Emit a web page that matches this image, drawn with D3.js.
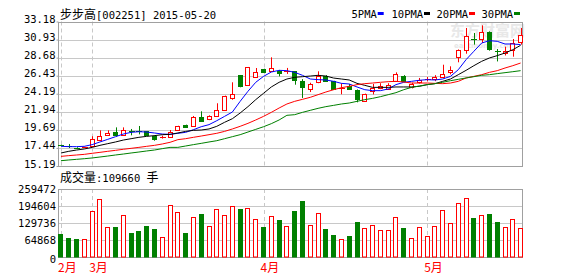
<!DOCTYPE html>
<html><head><meta charset="utf-8">
<script src="https://cdn.jsdelivr.net/npm/d3@7"></script>
<style>
html,body{margin:0;padding:0;background:#fff;}
svg{display:block;}
</style></head>
<body>
<svg id="chart" width="578" height="276"></svg>
<script>
// ---- data ----
const dates = ["02-17","02-25","02-26","02-27",
 "03-02","03-03","03-04","03-05","03-06","03-09","03-10","03-11","03-12","03-13","03-16","03-17","03-18","03-19","03-20","03-23","03-24","03-25","03-26","03-27","03-30","03-31",
 "04-01","04-02","04-03","04-07","04-08","04-09","04-10","04-13","04-14","04-15","04-16","04-17","04-20","04-21","04-22","04-23","04-24","04-27","04-28","04-29","04-30",
 "05-04","05-05","05-06","05-07","05-08","05-11","05-12","05-13","05-14","05-15","05-18","05-19","05-20"];
const openP  = [17.80,17.70,17.47,17.49,17.68,18.47,19.01,19.42,19.09,19.53,19.50,19.51,18.96,18.74,18.80,19.63,20.26,20.13,21.29,21.00,21.45,22.20,23.69,26.48,25.31,26.31,27.23,27.06,27.06,26.95,26.98,25.77,24.78,25.61,26.36,25.77,24.92,25.11,24.69,23.25,24.53,24.90,24.81,25.73,26.36,24.99,25.61,25.98,26.00,26.27,26.93,28.72,29.60,31.06,31.00,31.87,29.49,29.22,29.67,30.59];
const highP  = [17.85,17.93,17.52,17.60,18.89,19.63,19.63,20.00,20.00,19.80,20.17,19.55,19.01,18.97,19.67,20.20,20.34,21.42,22.00,21.50,23.00,23.95,25.61,26.52,27.52,27.39,27.30,28.72,27.15,27.40,27.00,26.00,25.56,26.98,26.50,25.80,25.49,25.40,24.72,24.20,25.40,25.50,25.50,26.85,26.50,25.55,26.15,26.27,26.50,27.80,27.60,29.70,32.37,31.75,32.70,31.95,29.75,30.05,31.00,32.37];
const lowP   = [17.70,17.43,17.36,17.45,17.60,18.34,18.95,18.84,19.00,19.01,19.13,18.97,18.34,18.60,18.72,19.55,19.92,20.08,20.75,20.90,21.35,22.10,23.44,24.99,25.20,26.20,26.85,26.98,26.35,26.65,25.31,23.66,24.40,25.50,25.75,24.75,24.12,24.70,23.12,23.20,24.10,24.75,24.70,25.65,25.65,24.85,25.45,25.73,25.75,26.20,26.60,28.10,29.17,30.30,30.50,29.55,28.21,28.95,28.80,30.30];
const closeP = [17.76,17.66,17.41,17.55,18.51,18.89,19.26,19.09,19.63,19.49,19.46,19.01,18.51,18.78,19.46,20.13,20.08,21.25,20.83,21.42,22.12,23.87,24.12,25.15,27.48,26.86,26.93,27.35,26.77,27.05,25.93,25.06,25.36,26.36,25.81,24.81,24.96,24.81,23.57,24.12,24.94,25.10,25.24,26.61,25.73,25.40,25.90,26.02,26.27,26.64,27.18,29.63,31.37,31.02,31.83,29.79,29.45,29.51,30.50,31.46];
const volume = [87763,72500,68684,67540,175527,221316,114474,114474,159119,91579,99211,118290,106842,76316,197273,170566,91579,151487,164079,117145,183158,159119,193461,184303,186974,143856,115619,155303,141184,118290,175527,214830,122106,167895,107987,85092,68684,81277,134698,110658,122106,103026,103026,152632,111803,72500,114474,80132,118290,179342,129737,206053,225132,149961,160263,164079,134698,114474,145000,109660];
const ma5  = [17.64,17.60,17.60,17.64,17.85,18.18,18.51,18.84,19.17,19.38,19.46,19.42,19.30,19.17,19.13,19.26,19.38,19.71,20.08,20.34,20.83,21.37,21.91,23.24,24.49,25.61,26.35,26.89,27.10,27.06,26.85,26.48,26.02,25.94,25.90,25.73,25.48,25.40,25.03,24.69,24.57,24.57,24.78,25.32,25.61,25.73,25.86,25.94,25.90,26.02,26.35,27.18,28.43,29.47,30.50,30.79,30.71,30.38,30.38,30.30];
const ma10 = [16.81,17.02,17.18,17.31,17.51,17.76,17.97,18.18,18.42,18.59,18.76,18.88,18.97,19.09,19.13,19.30,19.50,19.63,19.67,19.80,20.13,20.63,21.08,21.79,22.58,23.45,24.24,25.03,25.61,26.02,26.23,26.31,26.39,26.48,26.39,26.14,26.02,25.90,25.48,25.23,24.98,24.98,24.98,25.03,25.03,25.03,25.11,25.32,25.44,25.73,26.02,26.56,27.10,27.68,28.22,28.64,28.93,29.26,29.67,30.21];
const ma20 = [16.39,16.48,16.56,16.64,16.77,16.89,17.02,17.14,17.27,17.39,17.51,17.64,17.76,17.93,18.14,18.47,18.59,18.76,18.92,19.09,19.26,19.50,19.80,20.13,20.50,20.92,21.37,21.87,22.41,22.91,23.24,23.49,23.74,24.07,24.40,24.69,24.94,25.11,25.32,25.44,25.52,25.61,25.69,25.73,25.65,25.52,25.52,25.52,25.48,25.44,25.52,25.73,26.15,26.35,26.56,26.85,27.06,27.39,27.68,28.01];
const ma30 = [15.85,15.94,16.02,16.10,16.19,16.31,16.43,16.56,16.68,16.81,16.93,17.06,17.18,17.35,17.51,17.51,17.68,17.85,18.01,18.18,18.34,18.59,18.84,19.09,19.42,19.75,20.08,20.46,20.92,21.50,21.58,21.87,22.12,22.37,22.58,22.74,22.91,23.03,23.24,23.45,23.61,23.82,24.07,24.32,24.69,24.98,25.15,25.32,25.44,25.61,25.81,25.98,26.15,26.31,26.48,26.56,26.69,26.81,26.93,27.06];
const priceTicks = [15.19,17.44,19.69,21.94,24.19,26.43,28.68,30.93,33.18];
const volTicks = [0,64868,129736,194604,259472];
const monthNames = {"02":"2月","03":"3月","04":"4月","05":"5月"};
const maNames = ["5PMA","10PMA","20PMA","30PMA"];
const maColors = ["#0000ff","#000000","#ff0000","#008000"];
const titleName = "步步高", titleCode = "[002251] 2015-05-20";
const volLabel = "成交量", volUnit = "手";

// ---- drawing ----
const svg = d3.select("#chart");
const L = 58, R = 522;
const PT = 21.5, PB = 166, VT = 189, VB = 257;
const RED = "#ff0000", GREEN = "#008000", GRID = "#c8c8c8", BORDER = "#a0a0a0";
const mono = "'DejaVu Sans Mono','Liberation Mono',monospace";
const cjk = "'Noto Sans CJK SC','Noto Sans',sans-serif";

const idx = d3.range(dates.length);
const x = d3.scaleBand().domain(idx).range([57.1, 57.1 + 60 * 7.79]).paddingInner(0.3).paddingOuter(0.15);
const cx = i => x(i) + x.bandwidth() / 2;
const y = d3.scaleLinear().domain([15.19, 33.18]).range([PB, PT]);
const yv = d3.scaleLinear().domain([0, 259472]).range([VB, VT]);
const crisp = v => Math.round(v) + 0.5;

// month starts
const monthStarts = [];
dates.forEach((d, i) => { const m = d.slice(0, 2); if (i === 0 || m !== dates[i - 1].slice(0, 2)) monthStarts.push({i, m}); });

// watermark
const wm = svg.append("g").attr("fill", "#e8e8e8");
wm.append("text").attr("x", 450).attr("y", 36).attr("font-family", cjk).attr("font-size", 15).attr("font-weight", "bold").text("东方财富网");
wm.append("text").attr("x", 454).attr("y", 48).attr("font-family", "'DejaVu Sans',sans-serif").attr("font-size", 7).attr("font-weight", "bold").text("eastmoney.com");

// grids
function panel(top, bottom, ticks, scale) {
  const g = svg.append("g");
  g.selectAll("line.h").data(ticks.slice(1, -1)).join("line")
    .attr("x1", L).attr("x2", R).attr("y1", d => crisp(scale(d))).attr("y2", d => crisp(scale(d)))
    .attr("stroke", GRID).attr("stroke-width", 1);
  g.selectAll("line.v").data(monthStarts).join("line")
    .attr("x1", d => crisp(cx(d.i))).attr("x2", d => crisp(cx(d.i)))
    .attr("y1", top).attr("y2", bottom)
    .attr("stroke", GRID).attr("stroke-dasharray", "4,3");
  g.append("rect").attr("x", L + 0.5).attr("y", Math.round(top) + 0.5)
    .attr("width", R - L).attr("height", Math.round(bottom) - Math.round(top))
    .attr("fill", "none").attr("stroke", BORDER);
  return g;
}
panel(PT, PB, priceTicks, y);
panel(VT, VB, volTicks, yv);

// axis labels
const ya = d3.axisLeft(y).tickValues(priceTicks).tickFormat(d3.format(".2f")).tickSize(2);
const gya = svg.append("g").attr("transform", `translate(${L + 0.5},0)`).call(ya);
gya.select(".domain").remove();
gya.selectAll(".tick line").attr("stroke", BORDER);
gya.selectAll("text").attr("font-family", mono).attr("font-size", 10.5).attr("fill", "#000").attr("dy", "0.1em").attr("x", -3);

const yva = d3.axisLeft(yv).tickValues(volTicks).tickFormat(d => d).tickSize(0);
const gyv = svg.append("g").attr("transform", `translate(${L - 1},0)`).call(yva);
gyv.select(".domain").remove();
gyv.selectAll("text").attr("font-family", mono).attr("font-size", 10.5).attr("fill", "#000").attr("dy", d => d === 0 ? "0.55em" : "0.3em").attr("x", -1);

// candles
const isUp = i => closeP[i] >= openP[i];
const cg = svg.append("g");
idx.forEach(i => {
  const col = isUp(i) ? RED : GREEN;
  const xc = crisp(cx(i));
  const bw = Math.round(x.bandwidth());
  const xl = Math.round(cx(i) - bw / 2) + 0.5;
  const top = y(Math.max(openP[i], closeP[i])), bot = y(Math.min(openP[i], closeP[i]));
  cg.append("line").attr("x1", xc).attr("x2", xc).attr("y1", y(highP[i])).attr("y2", y(lowP[i])).attr("stroke", col);
  if (bot - top < 1.2) {
    cg.append("line").attr("x1", xl - 0.5).attr("x2", xl + bw + 0.5).attr("y1", crisp(top)).attr("y2", crisp(top)).attr("stroke", col);
  } else {
    cg.append("rect").attr("x", xl).attr("y", Math.round(top) + 0.5).attr("width", bw - 1)
      .attr("height", Math.max(1, Math.round(bot) - Math.round(top)))
      .attr("fill", isUp(i) ? "#fff" : GREEN).attr("stroke", col);
  }
});

// MA lines
const line = d3.line().x((d, i) => cx(i)).y(d => y(d));
[ma5, ma10, ma20, ma30].forEach((arr, k) => {
  svg.append("path").datum(arr).attr("d", line).attr("fill", "none").attr("stroke", maColors[k]).attr("stroke-width", 1);
});

// volume bars
const vg = svg.append("g");
idx.forEach(i => {
  const bw = Math.round(x.bandwidth());
  const xl = Math.round(cx(i) - bw / 2) + 0.5;
  const t = Math.round(yv(volume[i])) + 0.5;
  vg.append("rect").attr("x", xl).attr("y", t).attr("width", bw - 1).attr("height", VB - t)
    .attr("fill", isUp(i) ? "#fff" : GREEN).attr("stroke", isUp(i) ? RED : GREEN);
});

// month labels
svg.selectAll("text.month").data(monthStarts).join("text")
  .attr("x", d => cx(d.i) - 3).attr("y", 272)
  .attr("font-family", cjk).attr("font-size", 12).attr("fill", RED)
  .text(d => monthNames[d.m]);

// title
const tt = svg.append("text").attr("x", 60).attr("y", 19).attr("fill", "#000");
tt.append("tspan").attr("font-family", cjk).attr("font-size", 12).text(titleName);
tt.append("tspan").attr("font-family", mono).attr("font-size", 10.5).text(titleCode);

// legend
const legX = [351.5, 391.5, 436.5, 481.5];
maNames.forEach((n, k) => {
  svg.append("text").attr("x", legX[k]).attr("y", 18).attr("font-family", mono).attr("font-size", 10.5).attr("fill", "#000").text(n);
  const w = n.length * 6.3;
  svg.append("rect").attr("x", legX[k] + w + 1).attr("y", 12).attr("width", 6).attr("height", 3).attr("fill", maColors[k]);
});

// volume label
const vt = svg.append("text").attr("x", 60).attr("y", 182).attr("fill", "#000");
vt.append("tspan").attr("font-family", cjk).attr("font-size", 12).text(volLabel);
vt.append("tspan").attr("font-family", mono).attr("font-size", 10.5).text(":" + volume[volume.length - 1] + " ");
vt.append("tspan").attr("font-family", cjk).attr("font-size", 12).text(volUnit);
</script>
</body></html>
